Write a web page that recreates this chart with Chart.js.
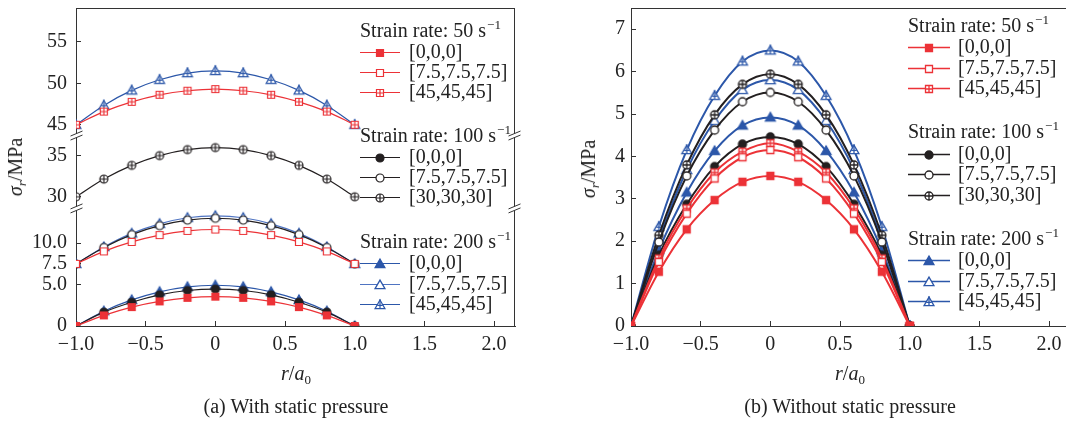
<!DOCTYPE html>
<html>
<head>
<meta charset="utf-8">
<script src="https://cdn.jsdelivr.net/npm/chart.js@4.4.0/dist/chart.umd.min.js"></script>
<style>
html, body { margin: 0; padding: 0; background: #fff; overflow: hidden; width: 1066px; height: 423px; }
body { position: relative; font-family: 'Liberation Serif', 'Times New Roman', serif; color: #222; }
canvas { position: absolute; top: 0; }
#c1 { left: 0; }
#c2 { left: 540px; }
.lbl { position: absolute; font-size: 20px; line-height: 20px; white-space: nowrap; }
.lbl sub { font-size: 13px; vertical-align: -4px; line-height: 0; }
.yt { transform: translate(-50%, -50%) rotate(-90deg); }
.ct { transform: translateX(-50%); }
</style>
</head>
<body>
<canvas id="c1" width="540" height="423"></canvas>
<canvas id="c2" width="535" height="423"></canvas>
<div class="lbl yt" style="left:15px;top:167px"><i>σ</i><sub><i>r</i></sub>/MPa</div>
<div class="lbl yt" style="left:588px;top:169px"><i>σ</i><sub><i>r</i></sub>/MPa</div>
<div class="lbl ct" style="left:296px;top:363px"><i>r</i>/<i>a</i><sub>0</sub></div>
<div class="lbl ct" style="left:850px;top:363px"><i>r</i>/<i>a</i><sub>0</sub></div>
<div class="lbl ct" style="left:296px;top:396px">(a) With static pressure</div>
<div class="lbl ct" style="left:850px;top:396px">(b) Without static pressure</div>
<script>
// radial position r/a0
var rRatio = [-1.0, -0.8, -0.6, -0.4, -0.2, 0, 0.2, 0.4, 0.6, 0.8, 1.0];

var strainRates = ['50', '100', '200'];
var groupLabels = [
    ['[0,0,0]', '[7.5,7.5,7.5]', '[45,45,45]'],
    ['[0,0,0]', '[7.5,7.5,7.5]', '[30,30,30]'],
    ['[0,0,0]', '[7.5,7.5,7.5]', '[45,45,45]']
];

// (a) with static pressure
var a50_0   = [0, 1.28, 2.28, 2.97, 3.40, 3.54, 3.40, 2.97, 2.28, 1.28, 0];
var a50_75  = [7.5, 9.01, 10.15, 10.98, 11.48, 11.65, 11.48, 10.98, 10.15, 9.01, 7.5];
var a50_45  = [45, 46.59, 47.77, 48.62, 49.11, 49.31, 49.11, 48.62, 47.77, 46.59, 45];
var a100_0  = [0, 1.67, 2.87, 3.76, 4.29, 4.46, 4.29, 3.76, 2.87, 1.67, 0];
var a100_75 = [7.5, 9.48, 11.04, 12.12, 12.79, 13.01, 12.79, 12.12, 11.04, 9.48, 7.5];
var a100_30 = [30, 32.14, 33.80, 34.98, 35.70, 35.94, 35.70, 34.98, 33.80, 32.14, 30];
var a200_0  = [0, 1.79, 3.15, 4.13, 4.73, 4.92, 4.73, 4.13, 3.15, 1.79, 0];
var a200_75 = [7.5, 9.54, 11.18, 12.34, 13.07, 13.30, 13.07, 12.34, 11.18, 9.54, 7.5];
var a200_45 = [45, 47.34, 49.15, 50.43, 51.24, 51.50, 51.24, 50.43, 49.15, 47.34, 45];

// (b) without static pressure
var b50_0   = [0, 1.28, 2.28, 2.97, 3.40, 3.54, 3.40, 2.97, 2.28, 1.28, 0];
var b50_75  = [0, 1.51, 2.65, 3.48, 3.98, 4.15, 3.98, 3.48, 2.65, 1.51, 0];
var b50_45  = [0, 1.59, 2.77, 3.62, 4.11, 4.31, 4.11, 3.62, 2.77, 1.59, 0];
var b100_0  = [0, 1.67, 2.87, 3.76, 4.29, 4.46, 4.29, 3.76, 2.87, 1.67, 0];
var b100_75 = [0, 1.98, 3.54, 4.62, 5.29, 5.51, 5.29, 4.62, 3.54, 1.98, 0];
var b100_30 = [0, 2.14, 3.80, 4.98, 5.70, 5.94, 5.70, 4.98, 3.80, 2.14, 0];
var b200_0  = [0, 1.79, 3.15, 4.13, 4.73, 4.92, 4.73, 4.13, 3.15, 1.79, 0];
var b200_75 = [0, 2.04, 3.68, 4.84, 5.57, 5.80, 5.57, 4.84, 3.68, 2.04, 0];
var b200_45 = [0, 2.34, 4.15, 5.43, 6.24, 6.50, 6.24, 5.43, 4.15, 2.34, 0];

// ticks
var xTicks = [-1, -0.5, 0, 0.5, 1, 1.5, 2];
var xTickLabels = ['\u22121.0', '\u22120.5', '0', '0.5', '1.0', '1.5', '2.0'];
var aLowTicks = [0, 5, 7.5, 10];
var aLowTickLabels = ['0', '5.0', '7.5', '10.0'];
var aMidTicks = [30, 35];
var aMidTickLabels = ['30', '35'];
var aTopTicks = [45, 50, 55];
var aTopTickLabels = ['45', '50', '55'];
var bTicks = [0, 1, 2, 3, 4, 5, 6, 7];
var bTickLabels = ['0', '1', '2', '3', '4', '5', '6', '7'];

var RED = '#ec3237', BLACK = '#231f20', BLUE = '#2c57a9', LBLUE = '#4f74c2';
var FONT = 'Liberation Serif';

// small marker pictures used as pointStyle
function marker(shape, mode, color, size, lw) {
    var s = 18, c = document.createElement('canvas');
    c.width = s; c.height = s;
    var g = c.getContext('2d'), m = s / 2, r = size / 2;
    g.lineWidth = lw;
    g.strokeStyle = color;
    g.fillStyle = mode == 'filled' ? color : '#fff';
    g.beginPath();
    if (shape == 'square') {
        g.rect(m - r, m - r, size, size);
    } else if (shape == 'circle') {
        g.arc(m, m, r, 0, Math.PI * 2);
    } else {
        g.moveTo(m, m - r * 1.1);
        g.lineTo(m + r * 1.1, m + r * 0.8);
        g.lineTo(m - r * 1.1, m + r * 0.8);
        g.closePath();
    }
    g.fill();
    g.stroke();
    if (mode == 'cross') {
        g.beginPath();
        if (shape == 'triangle') {
            g.moveTo(m, m - r * 1.3); g.lineTo(m, m + r * 0.8);
            g.moveTo(m - r * 0.6, m + r * 0.1); g.lineTo(m + r * 0.6, m + r * 0.1);
        } else {
            g.moveTo(m, m - r); g.lineTo(m, m + r);
            g.moveTo(m - r, m); g.lineTo(m + r, m);
        }
        g.stroke();
    }
    return c;
}

function series(label, values, color, sprite, lw, axis) {
    return {
        label: label,
        data: rRatio.map(function (x, i) { return { x: x, y: values[i] }; }),
        yAxisID: axis,
        borderColor: color,
        backgroundColor: color,
        borderWidth: lw,
        pointStyle: sprite,
        pointRadius: 5,
        cubicInterpolationMode: 'monotone',
        fill: false
    };
}

function fixedTicks(vals, labels, pad, extra) {
    var o = {
        type: 'linear',
        grid: { drawOnChartArea: false, drawTicks: true, tickLength: -5, color: '#333', lineWidth: 1 },
        border: { color: '#333', width: 1 },
        ticks: {
            font: { family: FONT, size: 20 }, color: '#222', autoSkip: false, maxRotation: 0, padding: pad,
            callback: function (v, i) { return labels[i]; }
        },
        afterBuildTicks: function (s) { s.ticks = vals.map(function (v) { return { value: v }; }); }
    };
    for (var k in extra) o[k] = extra[k];
    return o;
}

function sizeAxis(w, h) {
    return function (s) {
        if (w) s.width = w;
        if (h) s.height = h;
        s.paddingTop = 0; s.paddingBottom = 0; s.paddingLeft = 0; s.paddingRight = 0;
    };
}

// frame: top and right border, plus axis breaks
var framePlugin = {
    id: 'frame',
    afterDraw: function (chart, args, opts) {
        var ctx = chart.ctx, a = chart.chartArea;
        ctx.save();
        ctx.strokeStyle = '#333';
        ctx.lineWidth = 1;
        ctx.beginPath();
        ctx.moveTo(a.left, a.top + 0.5); ctx.lineTo(a.right, a.top + 0.5);
        ctx.moveTo(a.right - 0.5, a.top); ctx.lineTo(a.right - 0.5, a.bottom);
        ctx.stroke();
        (opts.breaks || []).forEach(function (id) {
            var yb = chart.scales[id].bottom;
            [a.left + 0.5, a.right - 0.5].forEach(function (x) {
                ctx.fillStyle = '#fff';
                ctx.fillRect(x - 2, yb - 2, 4, 4);
                ctx.beginPath();
                [-2, 2].forEach(function (d) {
                    ctx.moveTo(x - 6, yb + d + 2.5);
                    ctx.lineTo(x + 6, yb + d - 2.5);
                });
                ctx.stroke();
            });
        });
        ctx.restore();
    }
};

// grouped legend
var legendPlugin = {
    id: 'groupLegend',
    afterDraw: function (chart, args, o) {
        var ctx = chart.ctx, ds = chart.data.datasets;
        ctx.save();
        ctx.textBaseline = 'middle';
        ctx.textAlign = 'left';
        ctx.fillStyle = '#222';
        strainRates.forEach(function (rate, gi) {
            var gy = o.groupY[gi];
            var title = 'Strain rate: ' + rate + ' s';
            ctx.font = '20px "' + FONT + '"';
            ctx.fillStyle = '#222';
            ctx.fillText(title, o.x, gy);
            var w = ctx.measureText(title).width;
            ctx.font = '13px "' + FONT + '"';
            ctx.fillText('\u22121', o.x + w + 1, gy - 6);
            for (var k = 0; k < 3; k++) {
                var d = ds[gi * 3 + k];
                var yy = Math.round(gy + o.gap * (k + 1)) + 0.5;
                ctx.strokeStyle = d.borderColor;
                ctx.lineWidth = o.lw;
                ctx.beginPath();
                ctx.moveTo(o.x, yy); ctx.lineTo(o.x + o.len, yy);
                ctx.stroke();
                var sp = d.pointStyle;
                ctx.drawImage(sp, Math.round(o.x + o.len / 2 - sp.width / 2), Math.round(yy - sp.height / 2));
                ctx.font = '20px "' + FONT + '"';
                ctx.fillStyle = '#222';
                ctx.fillText(d.label, o.textX, yy);
            }
        });
        ctx.restore();
    }
};

// ---------- (a) ----------
var aLw = 1.2;
var dataA = [
    series(groupLabels[0][0], a50_0, RED, marker('square', 'filled', RED, 7, 1.2), aLw, 'yLow'),
    series(groupLabels[0][1], a50_75, RED, marker('square', 'open', RED, 7, 1.2), aLw, 'yLow'),
    series(groupLabels[0][2], a50_45, RED, marker('square', 'cross', RED, 7, 1.2), aLw, 'yTop'),
    series(groupLabels[1][0], a100_0, BLACK, marker('circle', 'filled', BLACK, 8, 1.2), aLw, 'yLow'),
    series(groupLabels[1][1], a100_75, BLACK, marker('circle', 'open', BLACK, 8, 1.2), aLw, 'yLow'),
    series(groupLabels[1][2], a100_30, BLACK, marker('circle', 'cross', BLACK, 8, 1.2), aLw, 'yMid'),
    series(groupLabels[2][0], a200_0, BLUE, marker('triangle', 'filled', BLUE, 9, 1.2), aLw, 'yLow'),
    series(groupLabels[2][1], a200_75, LBLUE, marker('triangle', 'open', BLUE, 9, 1.3), aLw, 'yLow'),
    series(groupLabels[2][2], a200_45, BLUE, marker('triangle', 'cross', BLUE, 9, 1.2), aLw, 'yTop')
];

new Chart(document.getElementById('c1'), {
    type: 'line',
    data: { datasets: dataA },
    options: {
        responsive: false,
        animation: false,
        events: [],
        layout: { autoPadding: false, padding: { top: 8, right: 25, left: 0, bottom: 0 } },
        plugins: {
            legend: { display: false },
            tooltip: { enabled: false },
            frame: { breaks: ['yTop', 'yMid'] },
            groupLegend: { x: 360, textX: 409, len: 40, lw: 1.2, gap: 20.3, groupY: [31.5, 136.5, 243] }
        },
        scales: {
            x: fixedTicks(xTicks, xTickLabels, 12, { position: 'bottom', min: -1, max: 2.15, afterFit: sizeAxis(0, 97) }),
            yLow: fixedTicks(aLowTicks, aLowTickLabels, 14, { position: 'left', min: 0, max: 14.2, stack: 'sig', stackWeight: 14.2, afterFit: sizeAxis(76, 0) }),
            yMid: fixedTicks(aMidTicks, aMidTickLabels, 14, { position: 'left', min: 28.6, max: 37.4, stack: 'sig', stackWeight: 8.8, afterFit: sizeAxis(76, 0) }),
            yTop: fixedTicks(aTopTicks, aTopTickLabels, 14, { position: 'left', min: 43.7, max: 59.1, stack: 'sig', stackWeight: 15.4, afterFit: sizeAxis(76, 0) })
        }
    },
    plugins: [framePlugin, legendPlugin]
});

// ---------- (b) ----------
var bLw = 2;
var dataB = [
    series(groupLabels[0][0], b50_0, RED, marker('square', 'filled', RED, 7, 1.3), bLw, 'y'),
    series(groupLabels[0][1], b50_75, RED, marker('square', 'open', RED, 7, 1.3), bLw, 'y'),
    series(groupLabels[0][2], b50_45, RED, marker('square', 'cross', RED, 7, 1.3), bLw, 'y'),
    series(groupLabels[1][0], b100_0, BLACK, marker('circle', 'filled', BLACK, 8, 1.3), bLw, 'y'),
    series(groupLabels[1][1], b100_75, BLACK, marker('circle', 'open', BLACK, 8, 1.3), bLw, 'y'),
    series(groupLabels[1][2], b100_30, BLACK, marker('circle', 'cross', BLACK, 8, 1.3), bLw, 'y'),
    series(groupLabels[2][0], b200_0, BLUE, marker('triangle', 'filled', BLUE, 9, 1.3), bLw, 'y'),
    series(groupLabels[2][1], b200_75, BLUE, marker('triangle', 'open', BLUE, 9, 1.3), bLw, 'y'),
    series(groupLabels[2][2], b200_45, BLUE, marker('triangle', 'cross', BLUE, 9, 1.3), bLw, 'y')
];

new Chart(document.getElementById('c2'), {
    type: 'line',
    data: { datasets: dataB },
    options: {
        responsive: false,
        animation: false,
        events: [],
        layout: { autoPadding: false, padding: { top: 8, right: 5, left: 0, bottom: 0 } },
        plugins: {
            legend: { display: false },
            tooltip: { enabled: false },
            frame: { breaks: [] },
            groupLegend: { x: 368, textX: 418, len: 42, lw: 1.6, gap: 20.6, groupY: [26.5, 133, 239.5] }
        },
        scales: {
            x: fixedTicks(xTicks, xTickLabels, 12, { position: 'bottom', min: -1, max: 2.15, afterFit: sizeAxis(0, 97) }),
            y: fixedTicks(bTicks, bTickLabels, 11, { position: 'left', min: 0, max: 7.5, afterFit: sizeAxis(91, 0) })
        }
    },
    plugins: [framePlugin, legendPlugin]
});
</script>
</body>
</html>
